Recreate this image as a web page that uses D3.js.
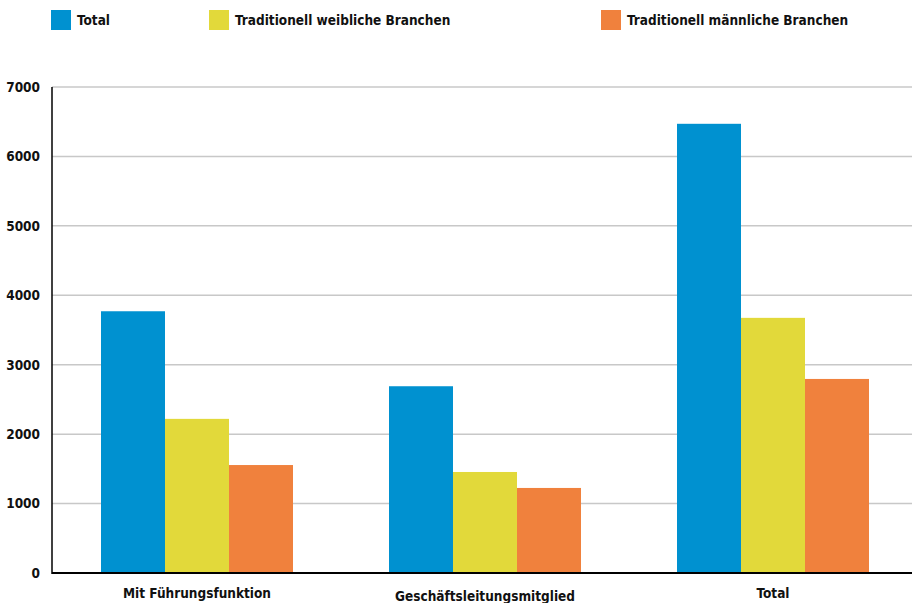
<!DOCTYPE html>
<html>
<head>
<meta charset="utf-8">
<script src="https://cdn.jsdelivr.net/npm/d3@7"></script>
<style>
  body { margin: 0; background: #fff; }
  text { font-family: "DejaVu Sans Condensed", "DejaVu Sans", sans-serif; font-weight: bold; fill: #111; }
</style>
</head>
<body>
<div id="chart"></div>
<script>
var categories = ['Mit Führungsfunktion', 'Geschäftsleitungsmitglied', 'Total']
var seriesNames = ['Total', 'Traditionell weibliche Branchen', 'Traditionell männliche Branchen']
var totalValues = [3770, 2690, 6470]
var femaleValues = [2220, 1455, 3675]
var maleValues = [1555, 1225, 2795]
var yTicks = [0, 1000, 2000, 3000, 4000, 5000, 6000, 7000]
var colors = ['#0091d0', '#e2d93a', '#f0813d']

var width = 912, height = 603
var margin = {top: 87, right: 0, bottom: 30, left: 52}

var svg = d3.select('#chart').append('svg')
    .attr('width', width)
    .attr('height', height)

var x0 = d3.scaleBand()
    .domain(categories)
    .range([margin.left + 1, margin.left + 1 + 288 * 3])

var x1 = d3.scaleBand()
    .domain(seriesNames)
    .range([48, 240])

var y = d3.scaleLinear()
    .domain([0, 7000])
    .range([height - margin.bottom, margin.top])

// gridlines
svg.append('g')
    .selectAll('line')
    .data(yTicks.slice(1))
    .enter().append('line')
    .attr('x1', margin.left)
    .attr('x2', width)
    .attr('y1', d => y(d))
    .attr('y2', d => y(d))
    .attr('stroke', '#c8c8c8')
    .attr('stroke-width', 1.5)

// y axis labels
svg.append('g')
    .attr('transform', 'translate(' + margin.left + ',0)')
    .call(d3.axisLeft(y).tickValues(yTicks).tickFormat(d3.format('d')).tickSize(0).tickPadding(12))
    .call(g => g.select('.domain').remove())
    .call(g => g.selectAll('text')
        .style('font-family', '"DejaVu Sans Condensed", sans-serif')
        .style('font-weight', 'bold')
        .style('font-size', '13.5px')
        .attr('fill', '#111'))

var rows = categories.map((c, i) => ({cat: c, values: [totalValues[i], femaleValues[i], maleValues[i]]}))

var groups = svg.selectAll('.grp')
    .data(rows)
    .enter().append('g')
    .attr('class', 'grp')
    .attr('transform', d => 'translate(' + x0(d.cat) + ',0)')

groups.selectAll('rect')
    .data(d => d.values.map((v, j) => ({name: seriesNames[j], value: v, color: colors[j]})))
    .enter().append('rect')
    .attr('x', d => x1(d.name))
    .attr('width', x1.bandwidth())
    .attr('y', d => y(d.value))
    .attr('height', d => y(0) - y(d.value))
    .attr('fill', d => d.color)

// axis lines
svg.append('line')
    .attr('x1', margin.left).attr('x2', margin.left)
    .attr('y1', y(7000)).attr('y2', y(0) + 1)
    .attr('stroke', '#000').attr('stroke-width', 1.5)
svg.append('line')
    .attr('x1', margin.left).attr('x2', width)
    .attr('y1', y(0)).attr('y2', y(0))
    .attr('stroke', '#000').attr('stroke-width', 2)

// category labels
var labelDy = [0, 3, 0]
svg.append('g')
    .selectAll('text')
    .data(categories)
    .enter().append('text')
    .attr('x', d => x0(d) + 144)
    .attr('y', (d, i) => 598 + labelDy[i])
    .attr('text-anchor', 'middle')
    .style('font-size', '13.5px')
    .text(d => d)

// legend
var legendX = [51, 209, 601]
var legend = svg.append('g')
    .selectAll('g')
    .data(seriesNames)
    .enter().append('g')
    .attr('transform', (d, i) => 'translate(' + legendX[i] + ',10)')

legend.append('rect')
    .attr('width', 20)
    .attr('height', 20)
    .attr('fill', (d, i) => colors[i])

legend.append('text')
    .attr('x', 26)
    .attr('y', 15)
    .style('font-size', '13.5px')
    .text(d => d)
</script>
</body>
</html>
